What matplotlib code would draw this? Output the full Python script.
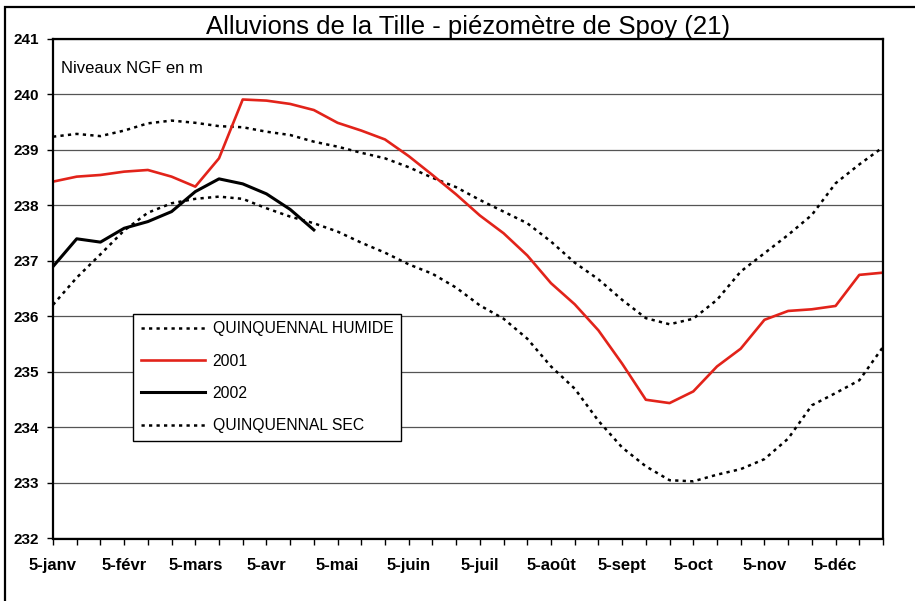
import matplotlib
matplotlib.use('Agg')
import matplotlib.pyplot as plt
from matplotlib.patches import Rectangle
import numpy as np

plt.rcParams['font.family'] = ['Liberation Sans', 'DejaVu Sans']

# Données : relevés tous les 10 jours (5, 15, 25 de chaque mois)
mois = ['janv', 'févr', 'mars', 'avr', 'mai', 'juin',
        'juil', 'août', 'sept', 'oct', 'nov', 'déc']
jours = [5, 15, 25]

humide = [239.24, 239.29, 239.25, 239.35, 239.48, 239.53, 239.49, 239.43, 239.41,
          239.33, 239.27, 239.15, 239.06, 238.95, 238.85, 238.69, 238.50, 238.33,
          238.10, 237.89, 237.68, 237.35, 236.97, 236.67, 236.30, 235.97, 235.86,
          235.96, 236.30, 236.81, 237.14, 237.47, 237.83, 238.40, 238.74, 239.05]
an2001 = [238.43, 238.52, 238.55, 238.61, 238.64, 238.52, 238.34, 238.85, 239.91,
          239.89, 239.83, 239.72, 239.49, 239.35, 239.19, 238.89, 238.55, 238.20,
          237.82, 237.50, 237.10, 236.60, 236.22, 235.75, 235.15, 234.50, 234.44,
          234.65, 235.10, 235.42, 235.94, 236.10, 236.13, 236.19, 236.75, 236.79]
an2002 = [236.90, 237.40, 237.34, 237.59, 237.71, 237.89, 238.25, 238.48, 238.39,
          238.21, 237.93, 237.56]
sec = [236.21, 236.70, 237.12, 237.55, 237.87, 238.04, 238.12, 238.16, 238.12,
       237.95, 237.80, 237.68, 237.53, 237.33, 237.15, 236.94, 236.77, 236.52,
       236.20, 235.96, 235.60, 235.10, 234.70, 234.12, 233.64, 233.30, 233.05,
       233.03, 233.15, 233.25, 233.43, 233.80, 234.40, 234.62, 234.85, 235.45]

cats = [f'{j}-{m}' for m in mois for j in jours]
labels = [c if c.startswith('5-') else '' for c in cats]
x = np.arange(len(cats))

fig = plt.figure(figsize=(9.15, 6.01), dpi=100)
ax = fig.add_axes([53 / 915, 62.5 / 601, 830 / 915, 499.5 / 601])

pointille = (0, (1.3, 1.7))
ax.plot(x, humide, color='black', lw=1.8, linestyle=pointille, label='QUINQUENNAL HUMIDE')
ax.plot(x, an2001, color='#e2231a', lw=1.9, label='2001')
ax.plot(x[:len(an2002)], an2002, color='black', lw=2.2, label='2002')
ax.plot(x, sec, color='black', lw=1.8, linestyle=pointille, label='QUINQUENNAL SEC')

ax.set_xlim(0, len(cats) - 1)
ax.set_ylim(232, 241)
ax.set_yticks(range(232, 242))
ax.set_xticks(x)
ax.set_xticklabels(labels)
ax.grid(axis='y', color='#555555', lw=0.9)
ax.set_axisbelow(True)
for s in ax.spines.values():
    s.set_linewidth(1.6)
ax.tick_params(axis='both', direction='out', length=4, width=1, labelsize=11)
ax.tick_params(axis='x', pad=10, labelsize=12)
ax.tick_params(axis='y', pad=6)
for t in ax.get_xticklabels() + ax.get_yticklabels():
    t.set_fontweight('bold')

ax.set_title('Alluvions de la Tille - piézomètre de Spoy (21)', fontsize=18.5, pad=3)
ax.text(0.01, 0.94, 'Niveaux NGF en m', transform=ax.transAxes, fontsize=12,
        va='center', ha='left')

leg = ax.legend(loc='lower left', bbox_to_anchor=(0.096, 0.195), fontsize=11.3,
                handlelength=4.1, handletextpad=0.5, labelspacing=1.1,
                borderpad=0.5, borderaxespad=0, fancybox=False, framealpha=1,
                edgecolor='black')
leg.get_frame().set_linewidth(1.0)

# cadre extérieur
fig.add_artist(Rectangle((5 / 915, -0.01), 1.02, 1.01 - 7 / 601,
                         transform=fig.transFigure, fill=False, lw=1.6,
                         edgecolor='black', clip_on=False))

fig.savefig('out.png', dpi=100)
